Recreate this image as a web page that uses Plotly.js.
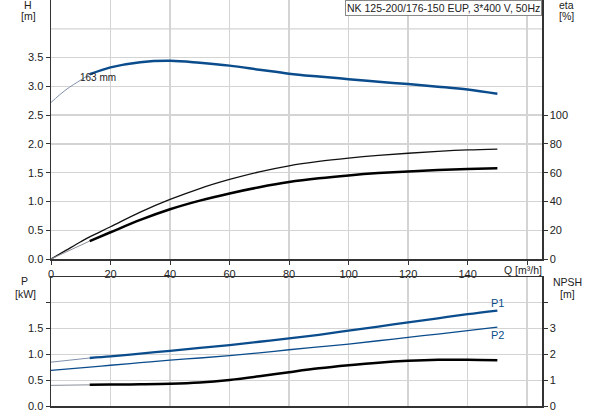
<!DOCTYPE html>
<html>
<head>
<meta charset="utf-8">
<script src="https://cdn.plot.ly/plotly-3.0.1.min.js"></script>
<style>html,body{margin:0;padding:0;background:#fff;}#chart{width:593px;height:415px;}</style>
</head>
<body>
<div id="chart"></div>
<script>
// ---- data ----
const qHThin = [0, 5, 10, 13];
const hThin = [2.72, 2.94, 3.11, 3.21];
const qH = [13, 20, 30, 40, 50, 60, 70, 80, 90, 100, 110, 120, 130, 140, 150];
const hMain = [3.21, 3.33, 3.42, 3.445, 3.41, 3.36, 3.29, 3.22, 3.17, 3.125, 3.08, 3.04, 2.995, 2.945, 2.87];

const qEta = [0, 5, 10, 13, 20, 30, 40, 50, 60, 70, 80, 90, 100, 110, 120, 130, 140, 150];
const etaPump = [0, 6.0, 12.0, 15.4, 22.4, 32.6, 41.4, 49.0, 55.3, 60.6, 64.8, 67.8, 70.1, 72.0, 73.5, 74.8, 75.8, 76.4];
const qEtaTotThin = [0, 13];
const etaTotThin = [0, 12.5];
const qEtaTot = [13, 20, 30, 40, 50, 60, 70, 80, 90, 100, 110, 120, 130, 140, 150];
const etaTot = [12.5, 18.6, 27.2, 34.6, 40.6, 45.6, 49.9, 53.5, 56.1, 58.1, 59.7, 60.9, 61.8, 62.5, 63.0];

const qPThin = [0, 13];
const p1Thin = [0.85, 0.93];
const qP = [13, 20, 30, 40, 50, 60, 70, 80, 90, 100, 110, 120, 130, 140, 150];
const p1 = [0.93, 0.96, 1.015, 1.07, 1.125, 1.18, 1.245, 1.31, 1.38, 1.46, 1.54, 1.62, 1.70, 1.78, 1.85];
const qP2 = [0, 13, 20, 30, 40, 50, 60, 70, 80, 90, 100, 110, 120, 130, 140, 150];
const p2 = [0.69, 0.755, 0.79, 0.84, 0.89, 0.93, 0.975, 1.03, 1.09, 1.145, 1.20, 1.265, 1.33, 1.395, 1.46, 1.53];

const qNpshThin = [0, 13];
const npshThin = [0.80, 0.82];
const qNpsh = [13, 20, 30, 40, 50, 60, 70, 80, 90, 100, 110, 120, 130, 140, 150];
const npsh = [0.82, 0.83, 0.84, 0.86, 0.91, 1.01, 1.15, 1.31, 1.46, 1.58, 1.68, 1.75, 1.79, 1.79, 1.77];

const xTicks = [0, 20, 40, 60, 80, 100, 120, 140, 160];
const xTickText = ['0', '20', '40', '60', '80', '100', '120', '140', ''];
const hTicks = [0, 0.5, 1, 1.5, 2, 2.5, 3, 3.5];
const hTickText = ['0.0', '0.5', '1.0', '1.5', '2.0', '2.5', '3.0', '3.5'];
const etaTicks = [0, 20, 40, 60, 80, 100];
const pTicks = [0, 0.5, 1, 1.5, 2];
const pTickText = ['0.0', '0.5', '1.0', '1.5', ''];
const npshTicks = [0, 1, 2, 3, 4];
const npshTickText = ['0', '1', '2', '3', ''];

const blue = '#0b4c8c';
const thinBlue = '#7f8fab';
const thinGray = '#8a8f98';

const traces = [
  {x: qHThin, y: hThin, xaxis: 'x', yaxis: 'y', mode: 'lines', line: {color: thinBlue, width: 1, shape: 'spline'}},
  {x: qH, y: hMain, xaxis: 'x', yaxis: 'y', mode: 'lines', line: {color: blue, width: 2.5, shape: 'spline'}},
  {x: qEta, y: etaPump, xaxis: 'x', yaxis: 'y2', mode: 'lines', line: {color: '#111', width: 1.3, shape: 'spline'}},
  {x: qEtaTotThin, y: etaTotThin, xaxis: 'x', yaxis: 'y2', mode: 'lines', line: {color: thinGray, width: 1}},
  {x: qEtaTot, y: etaTot, xaxis: 'x', yaxis: 'y2', mode: 'lines', line: {color: '#000', width: 2.5, shape: 'spline'}},
  {x: qPThin, y: p1Thin, xaxis: 'x2', yaxis: 'y3', mode: 'lines', line: {color: thinBlue, width: 1}},
  {x: qP, y: p1, xaxis: 'x2', yaxis: 'y3', mode: 'lines', line: {color: blue, width: 2.3, shape: 'spline'}},
  {x: qP2, y: p2, xaxis: 'x2', yaxis: 'y3', mode: 'lines', line: {color: blue, width: 1.3, shape: 'spline'}},
  {x: qNpshThin, y: npshThin, xaxis: 'x2', yaxis: 'y4', mode: 'lines', line: {color: thinGray, width: 1}},
  {x: qNpsh, y: npsh, xaxis: 'x2', yaxis: 'y4', mode: 'lines', line: {color: '#000', width: 2.5, shape: 'spline'}}
];

const fam = 'Liberation Sans, Arial, sans-serif';
const tickFont = {family: fam, size: 11, color: '#222'};
const labFont = {family: fam, size: 10.5, color: '#222'};
const axisCol = '#333';
const gridCol = '#d4d4d4';

// paper coords from pixel positions (plot area: x 51..542, y 0..406)
function px(x) { return (x - 51) / 491; }
function py(y) { return (406 - y) / 406; }
function lab(text, x, y) {
  return {xref: 'paper', yref: 'paper', x: px(x), y: py(y), xanchor: 'center', yanchor: 'middle',
    showarrow: false, text: text, font: labFont};
}

const layout = {
  width: 593, height: 415,
  margin: {l: 51, r: 51, t: 0, b: 9},
  paper_bgcolor: '#fff', plot_bgcolor: '#fff',
  showlegend: false,
  font: tickFont,
  xaxis: {domain: [0, 1], range: [0, 165], anchor: 'y', tickvals: xTicks, ticktext: xTickText,
    showgrid: true, gridcolor: gridCol, gridwidth: 1.3, zeroline: false,
    showline: true, linecolor: axisCol, linewidth: 1.5, ticks: 'outside', ticklen: 4, tickcolor: axisCol, tickfont: tickFont},
  yaxis: {domain: [0.362, 1], range: [0, 4.5], tickvals: hTicks, ticktext: hTickText,
    showgrid: true, gridcolor: gridCol, gridwidth: 1.3, zeroline: false,
    showline: true, linecolor: axisCol, linewidth: 1.5, ticks: 'outside', ticklen: 4, tickcolor: axisCol, tickfont: tickFont},
  yaxis2: {overlaying: 'y', side: 'right', range: [0, 180], tickvals: etaTicks,
    showgrid: false, zeroline: false, showline: true, linecolor: axisCol, linewidth: 1.5,
    ticks: 'outside', ticklen: 4, tickcolor: axisCol, tickfont: tickFont},
  xaxis2: {domain: [0, 1], range: [0, 165], anchor: 'y3', tickvals: xTicks, showticklabels: false,
    showgrid: true, gridcolor: gridCol, gridwidth: 1.3, zeroline: false,
    showline: true, mirror: true, linecolor: axisCol, linewidth: 1.5, ticks: ''},
  yaxis3: {domain: [0, 0.3177], anchor: 'x2', range: [0, 2.5], tickvals: pTicks, ticktext: pTickText,
    showgrid: true, gridcolor: gridCol, gridwidth: 1.3, zeroline: false,
    showline: true, linecolor: axisCol, linewidth: 1.5, ticks: 'outside', ticklen: 4, tickcolor: axisCol, tickfont: tickFont},
  yaxis4: {overlaying: 'y3', anchor: 'x2', side: 'right', range: [0, 5], tickvals: npshTicks, ticktext: npshTickText,
    showgrid: false, zeroline: false, showline: true, linecolor: axisCol, linewidth: 1.5,
    ticks: 'outside', ticklen: 4, tickcolor: axisCol, tickfont: tickFont},
  shapes: [
    {type: 'line', xref: 'x', yref: 'y', x0: 0, x1: 165, y0: 4, y1: 4, line: {color: gridCol, width: 1.3}, layer: 'below'}
  ],
  annotations: [
    {xref: 'paper', yref: 'paper', x: 0.999, y: 1, xanchor: 'right', yanchor: 'top', showarrow: false,
     text: 'NK 125-200/176-150 EUP, 3*400 V, 50Hz', font: {family: fam, size: 10.5, color: '#222'},
     bordercolor: '#888', borderwidth: 1, borderpad: 1, bgcolor: '#fff'},
    {xref: 'x', yref: 'y', x: 9, y: 3.15, xanchor: 'left', yanchor: 'middle', showarrow: false, text: '163 mm',
     font: {family: fam, size: 10, color: '#222'}},
    lab('H', 28, 5), lab('[m]', 28, 16.5),
    lab('eta', 566, 5), lab('[%]', 566, 16.5),
    lab('P', 24.5, 281), lab('[kW]', 25.5, 294),
    lab('NPSH', 567, 282), lab('[m]', 567, 294),
    {xref: 'x', yref: 'paper', x: 151.5, y: 0.362, xanchor: 'left', yanchor: 'top', yshift: -3, showarrow: false, text: 'Q [m³/h]',
     font: labFont},
    {xref: 'x2', yref: 'y3', x: 150, y: 1.85, xanchor: 'center', yanchor: 'bottom', showarrow: false, text: 'P1',
     font: {family: fam, size: 11, color: blue}},
    {xref: 'x2', yref: 'y3', x: 150, y: 1.53, xanchor: 'center', yanchor: 'top', showarrow: false, text: 'P2',
     font: {family: fam, size: 11, color: blue}}
  ]
};

Plotly.newPlot('chart', traces, layout, {staticPlot: true, displayModeBar: false});
</script>
</body>
</html>
